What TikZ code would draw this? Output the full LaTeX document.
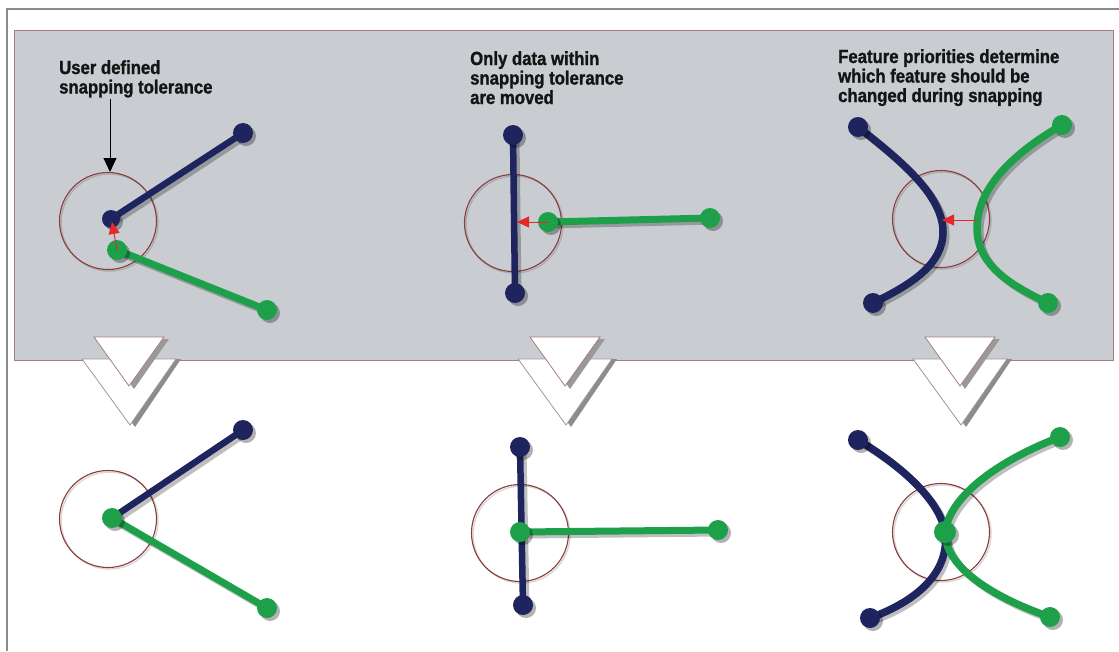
\documentclass[tikz,border=0pt]{standalone}
\usepackage{fontspec}
\usetikzlibrary{arrows.meta,shadows}
\newfontfamily\lblfont{Liberation Sans}[FakeStretch=0.88, BoldFeatures={FakeBold=1.2}]
\definecolor{navy}{RGB}{30,36,94}
\definecolor{grn}{RGB}{30,160,74}
\definecolor{panelgray}{RGB}{201,205,209}
\definecolor{panelborder}{RGB}{165,125,125}
\definecolor{ringred}{RGB}{140,60,60}
\definecolor{framegray}{RGB}{140,140,140}
\definecolor{arrred}{RGB}{232,40,40}
\definecolor{txt}{RGB}{20,20,20}
\tikzset{
  dotshadow/.style={drop shadow={shadow xshift=3pt, shadow yshift=-3pt, opacity=0.3, fill=black}},
  bdot/.style={circle, fill=navy, minimum size=20pt, inner sep=0pt, dotshadow},
  gdot/.style={circle, fill=grn, minimum size=20pt, inner sep=0pt, dotshadow},
  bline/.style={draw=navy, line width=6.5pt},
  gline/.style={draw=grn, line width=7pt},
  bcurve/.style={draw=navy, line width=7.5pt},
  gcurve/.style={draw=grn, line width=7.5pt},
  lshadow/.style={draw=black, opacity=0.25, line width=7pt, transform canvas={xshift=3pt, yshift=-3pt}},
  ring/.style={draw=ringred, line width=1.1pt},
  ringshadow/.style={draw=black, opacity=0.15, line width=1.5pt, transform canvas={xshift=1.5pt, yshift=-1.5pt}},
  lbl/.style={font=\lblfont\bfseries\fontsize{19}{19.5}\selectfont, text=txt, anchor=base west, inner sep=0pt},
  redarr/.style={draw=arrred, line width=1pt, -{Triangle[width=11pt,length=12pt]}},
  blackarr/.style={draw=black, line width=1pt, -{Triangle[width=13pt,length=14pt]}},
  chev/.pic={
    \fill[black!45] (-42,359) -- (52,359) -- (6,427) -- cycle;
    \filldraw[fill=white, draw=black!40, line width=0.8pt] (-47,359) -- (47,359) -- (1,425) -- cycle;
    \fill[black!40] (-30,339) -- (40,339) -- (5,389) -- cycle;
    \filldraw[fill=white, draw=panelborder, line width=0.8pt] (-35,337) -- (35,337) -- (0,386) -- cycle;
  }
}
\begin{document}
\begin{tikzpicture}[x=1pt,y=-1pt]
\useasboundingbox (0,0) rectangle (1119,651);
\fill[white] (0,0) rectangle (1119,651);
% outer frame
\draw[framegray, line width=1.5pt] (7,651) -- (7,9) -- (1119,9);
% grey panel
\filldraw[fill=panelgray, draw=panelborder, line width=0.8pt] (14,30) rectangle (1113,360);

% chevrons
\pic at (129,0) {chev};
\pic at (565,0) {chev};
\pic at (960,0) {chev};

% ---------- labels ----------
\node[lbl] (t1a) at (59,74) {User defined};
\node[lbl] (t1b) at (59,93.5) {snapping tolerance};
\node[lbl] (t2a) at (470,65) {Only data within};
\node[lbl] (t2b) at (470,84.5) {snapping tolerance};
\node[lbl] (t2c) at (470,104) {are moved};
\node[lbl] (t3a) at (838,63) {Feature priorities determine};
\node[lbl] (t3b) at (838,82.5) {which feature should be};
\node[lbl] (t3c) at (838,102) {changed during snapping};

% ---------- coordinates ----------
% top left
\coordinate (LBa) at (243,133); \coordinate (LBb) at (111,219);
\coordinate (LGa) at (117,250); \coordinate (LGb) at (267,310);
\coordinate (LR) at (108,221); \coordinate (LTip) at (112,222);
\coordinate (LArrS) at (110,99); \coordinate (LArrE) at (110,172);
% top middle
\coordinate (MBa) at (513,135); \coordinate (MBb) at (515,293);
\coordinate (MGa) at (548,222); \coordinate (MGb) at (710,218);
\coordinate (MR) at (513,223); \coordinate (MTip) at (517,222);
% top right
\coordinate (RBa) at (858,127); \coordinate (RBb) at (873,303);
\coordinate (RGa) at (1062,125); \coordinate (RGb) at (1048,303);
\coordinate (RR) at (941,219); \coordinate (RS) at (977,220); \coordinate (RTip) at (942,220);
% bottom left
\coordinate (lBa) at (243,430); \coordinate (lJ) at (112,518);
\coordinate (lGb) at (267,608); \coordinate (lR) at (108,519);
% bottom middle
\coordinate (mBa) at (520,447); \coordinate (mBb) at (523,605);
\coordinate (mJ) at (520,532); \coordinate (mGb) at (718,530);
\coordinate (mR) at (520,533);
% bottom right
\coordinate (rBa) at (858,440); \coordinate (rBb) at (870,618);
\coordinate (rGa) at (1060,437); \coordinate (rGb) at (1050,617);
\coordinate (rJ) at (945,532); \coordinate (rR) at (941,532);

% ---------- rings ----------
\foreach \c in {LR,MR,RR,lR,mR,rR}{
  \draw[ringshadow] (\c) circle[radius=48.5pt];
  \draw[ring] (\c) circle[radius=48.5pt];
}

% ---------- top left ----------
\draw[blackarr] (LArrS) -- (LArrE);
\draw[lshadow] (LBa) -- (LBb);
\draw[lshadow] (LGa) -- (LGb);
\draw[bline] (LBa) -- (LBb);
\draw[gline] (LGa) -- (LGb);
\node[bdot] (nLBa) at (LBa) {};
\node[bdot, minimum size=18pt] (nLBb) at (LBb) {};
\node[gdot] (nLGa) at (LGa) {};
\node[gdot] (nLGb) at (LGb) {};
\draw[redarr] (nLGa.center) -- (LTip);

% ---------- top middle ----------
\draw[lshadow] (MBa) -- (MBb);
\draw[lshadow] (MGa) -- (MGb);
\draw[bline] (MBa) -- (MBb);
\draw[gline] (MGa) -- (MGb);
\node[bdot] (nMBa) at (MBa) {};
\node[bdot] (nMBb) at (MBb) {};
\node[gdot] (nMGa) at (MGa) {};
\node[gdot] (nMGb) at (MGb) {};
\draw[redarr] (nMGa.center) -- (MTip);

% ---------- top right ----------
\draw[lshadow] (RBa) .. controls (900,160) and (943,195) .. (943,232) .. controls (943,265) and (910,285) .. (RBb);
\draw[lshadow] (RGa) .. controls (1010,155) and (977,190) .. (977,228) .. controls (977,265) and (1010,285) .. (RGb);
\draw[bcurve] (RBa) .. controls (900,160) and (943,195) .. (943,232) .. controls (943,265) and (910,285) .. (RBb);
\draw[gcurve] (RGa) .. controls (1010,155) and (977,190) .. (977,228) .. controls (977,265) and (1010,285) .. (RGb);
\node[bdot] (nRBa) at (RBa) {};
\node[bdot] (nRBb) at (RBb) {};
\node[gdot] (nRGa) at (RGa) {};
\node[gdot] (nRGb) at (RGb) {};
\draw[redarr] (RS) -- (RTip);

% ---------- bottom left ----------
\draw[lshadow] (lBa) -- (lJ);
\draw[lshadow] (lJ) -- (lGb);
\draw[bline] (lBa) -- (lJ);
\draw[gline] (lJ) -- (lGb);
\node[bdot] (nlBa) at (lBa) {};
\node[gdot] (nlGb) at (lGb) {};
\node[gdot] (nlJ) at (lJ) {};

% ---------- bottom middle ----------
\draw[lshadow] (mBa) -- (mBb);
\draw[lshadow] (mJ) -- (mGb);
\draw[bline] (mBa) -- (mBb);
\draw[gline] (mJ) -- (mGb);
\node[bdot] (nmBa) at (mBa) {};
\node[bdot] (nmBb) at (mBb) {};
\node[gdot] (nmGb) at (mGb) {};
\node[gdot] (nmJ) at (mJ) {};

% ---------- bottom right ----------
\draw[lshadow] (rBa) .. controls (900,465) and (940,500) .. (rJ) .. controls (950,570) and (920,600) .. (rBb);
\draw[lshadow] (rGa) .. controls (1000,460) and (950,495) .. (rJ) .. controls (945,570) and (1000,600) .. (rGb);
\draw[bcurve] (rBa) .. controls (900,465) and (940,500) .. (rJ) .. controls (950,570) and (920,600) .. (rBb);
\draw[gcurve] (rGa) .. controls (1000,460) and (950,495) .. (rJ) .. controls (945,570) and (1000,600) .. (rGb);
\node[bdot] (nrBa) at (rBa) {};
\node[bdot] (nrBb) at (rBb) {};
\node[gdot] (nrGa) at (rGa) {};
\node[gdot] (nrGb) at (rGb) {};
\node[gdot, minimum size=22pt] (nrJ) at (rJ) {};
\end{tikzpicture}
\end{document}
